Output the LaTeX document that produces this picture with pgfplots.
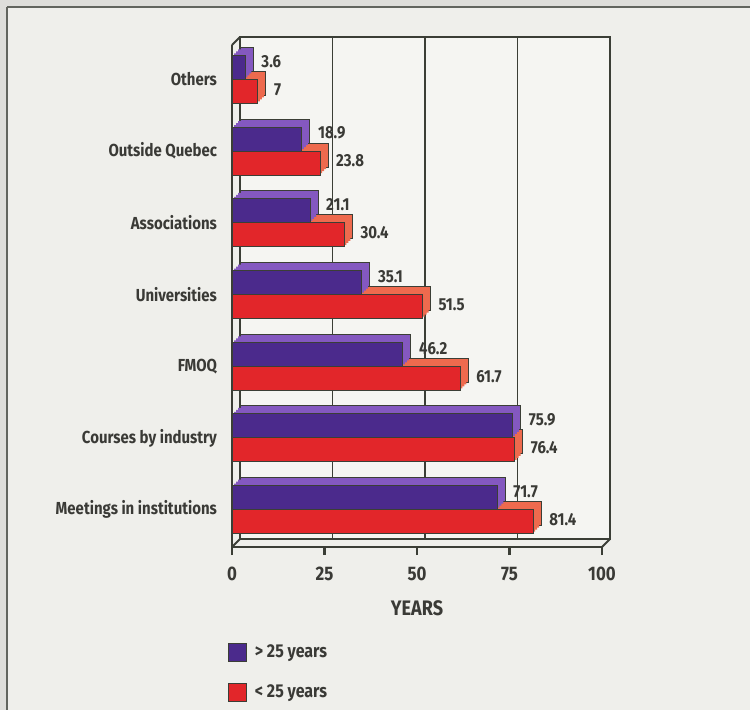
\documentclass[border=0pt]{standalone}
\usepackage{fontspec}
\setmainfont{Fira Sans}[FakeStretch=0.86]
\usepackage{pgfplots}
\usepackage{pgfplotstable}
\pgfplotsset{compat=1.18}
\definecolor{bgC}{HTML}{EFEFEB}
\definecolor{outC}{HTML}{DEDEDA}
\definecolor{lineC}{HTML}{3B3E36}
\definecolor{txtC}{HTML}{3A3A36}
\definecolor{purF}{HTML}{4B2A8C}
\definecolor{purT}{HTML}{8458C0}
\definecolor{redF}{HTML}{E2262A}
\definecolor{redT}{HTML}{EE6A4E}
\pgfplotstableread{
y old young
6 3.6 7
5 18.9 23.8
4 21.1 30.4
3 35.1 51.5
2 46.2 61.7
1 75.9 76.4
0 71.7 81.4
}\data
\begin{document}
\begin{tikzpicture}
\useasboundingbox (0,0) rectangle (375pt,-355pt);
\fill[outC] (0,0) rectangle (375pt,-355pt);
\fill[bgC] (3.5pt,-3.5pt) rectangle (380pt,-360pt);
\draw[lineC!80, line width=0.8pt] (3.5pt,-3.5pt) -- (380pt,-3.5pt);
\draw[lineC!80, line width=0.8pt] (3.5pt,-3.5pt) -- (3.5pt,-360pt);
% back wall
\begin{axis}[
  at={(120pt,-269.5pt)}, anchor=south west,
  scale only axis, width=185pt, height=251pt,
  xmin=0, xmax=100, ymin=-0.52, ymax=6.48,
  xtick={25,50,75}, xticklabels={}, ytick=\empty,
  major tick length=0pt,
  xmajorgrids, grid style={draw=lineC, line width=0.7pt},
  axis line style={draw=lineC, line width=1pt},
  axis background/.style={fill=white!35!bgC},
]
\end{axis}
% front
\begin{axis}[
  at={(116pt,-273.5pt)}, anchor=south west,
  scale only axis, width=185pt, height=251pt,
  xmin=0, xmax=100, ymin=-0.52, ymax=6.48,
  clip=false,
  axis x line*=bottom, axis y line*=left,
  axis line style={draw=lineC, line width=1pt, -},
  xtick={0,25,50,75,100},
  tick align=outside,
  major x tick style={draw=lineC, line width=1.3pt},
  major tick length=4pt,
  ytick={0,1,2,3,4,5,6},
  yticklabels={Meetings in institutions,Courses by industry,FMOQ,Universities,Associations,Outside Quebec,Others},
  major y tick style={draw=none},
  yticklabel style={font=\bfseries\fontsize{8.7}{10}\selectfont, text=txtC, xshift=0pt},
  xticklabel style={font=\bfseries\fontsize{9.8}{11}\selectfont, text=txtC, yshift=-2.5pt},
  /pgf/number format/assume math mode=true,
  legend style={at={(0,0)}, anchor=north west, draw=none, fill=none,
    xshift=-5pt, yshift=-44.5pt, font=\bfseries\fontsize{9.3}{10}\selectfont,
    text=txtC, row sep=8pt, cells={anchor=west}},
  legend image code/.code={\draw[#1, line width=0.5pt] (0pt,-4.5pt) rectangle (9pt,4.5pt); \path[draw=none, fill=none] (11pt,0pt) circle (0pt);},
]
% red extrusion
\addplot[xbar, bar width=12pt, bar shift=-6pt, fill=redT, draw=lineC, line width=0.5pt, xshift=4pt, yshift=4pt, forget plot] table[x=young, y=y] {\data};
\addplot[xbar, bar width=12pt, bar shift=-6pt, fill=redT, draw=none, xshift=3pt, yshift=3pt, forget plot] table[x=young, y=y] {\data};
\addplot[xbar, bar width=12pt, bar shift=-6pt, fill=redT, draw=none, xshift=2pt, yshift=2pt, forget plot] table[x=young, y=y] {\data};
\addplot[xbar, bar width=12pt, bar shift=-6pt, fill=redT, draw=none, xshift=1pt, yshift=1pt, forget plot] table[x=young, y=y] {\data};
\addplot[xbar, bar width=12pt, bar shift=-6pt, fill=redF, draw=lineC, line width=0.5pt, forget plot,
  nodes near coords={\pgfmathprintnumber{\pgfplotspointmeta}},
  nodes near coords style={font=\bfseries\fontsize{8.7}{10}\selectfont, text=txtC, anchor=west, xshift=4.5pt, yshift=-5pt},
  point meta=x] table[x=young, y=y] {\data};
% purple extrusion
\addplot[xbar, bar width=12pt, bar shift=6pt, fill=purT, draw=lineC, line width=0.5pt, xshift=4pt, yshift=4pt, forget plot] table[x=old, y=y] {\data};
\addplot[xbar, bar width=12pt, bar shift=6pt, fill=purT, draw=none, xshift=3pt, yshift=3pt, forget plot] table[x=old, y=y] {\data};
\addplot[xbar, bar width=12pt, bar shift=6pt, fill=purT, draw=none, xshift=2pt, yshift=2pt, forget plot] table[x=old, y=y] {\data};
\addplot[xbar, bar width=12pt, bar shift=6pt, fill=purT, draw=none, xshift=1pt, yshift=1pt, forget plot] table[x=old, y=y] {\data};
\addplot[xbar, bar width=12pt, bar shift=6pt, fill=purF, draw=lineC, line width=0.5pt, forget plot,
  nodes near coords={\pgfmathprintnumber{\pgfplotspointmeta}},
  nodes near coords style={font=\bfseries\fontsize{8.7}{10}\selectfont, text=txtC, anchor=west, xshift=4.5pt, yshift=9pt},
  point meta=x] table[x=old, y=y] {\data};
\draw[lineC, line width=1pt] (axis cs:0,6.48) -- ++(4pt,4pt);
\draw[lineC, line width=1pt] (axis cs:0,-0.52) -- ++(4pt,4pt);
\draw[lineC, line width=1pt] (axis cs:100,-0.52) -- ++(4pt,4pt);
\node[font=\bfseries\fontsize{10.5}{12}\selectfont, text=txtC] at (axis description cs:0.5,0) [yshift=-30.5pt] {YEARS};
\addlegendimage{fill=purF, draw=lineC}
\addlegendentry{> 25 years}
\addlegendimage{fill=redF, draw=lineC}
\addlegendentry{< 25 years}
\end{axis}
\end{tikzpicture}
\end{document}
